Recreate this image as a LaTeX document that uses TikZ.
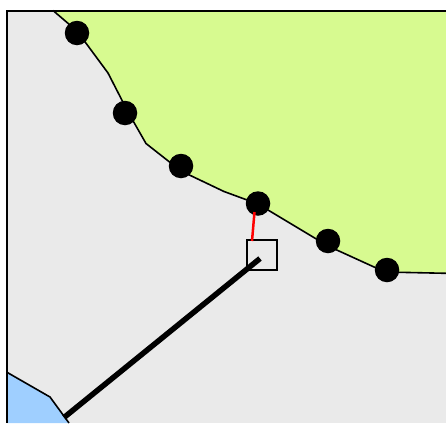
\documentclass[tikz,border=0pt]{standalone}
\definecolor{landgray}{HTML}{EAEAEA}
\definecolor{landgreen}{HTML}{D7FA90}
\definecolor{waterblue}{HTML}{9FCFFF}
\tikzset{
  stationdot/.style={circle,fill=black,draw=none,minimum size=24.5pt,inner sep=0pt},
  boundaryline/.style={draw=black,line width=1.6pt,line join=round},
  framebox/.style={draw=black,line width=1.7pt,minimum size=30pt,inner sep=0pt}
}
\begin{document}
\begin{tikzpicture}[x=1pt,y=-1pt]
\useasboundingbox (0,0) rectangle (446,423);
\fill[white] (0,0) rectangle (446,423);
\fill[landgray] (6.5,10.5) rectangle (446,423);
\fill[landgreen] (53,10.5) -- (77,31) -- (108,73) -- (128,112) -- (146,143.5) -- (181,171) -- (224,191.5) -- (258,204) -- (328,246) -- (385,272) -- (446,273.3) -- (446,10.5) -- cycle;
\fill[waterblue] (6.5,372) -- (50,397) -- (69,423) -- (6.5,423) -- cycle;
\draw[boundaryline] (53,10.5) -- (77,31) -- (108,73) -- (128,112) -- (146,143.5) -- (181,171) -- (224,191.5) -- (258,204) -- (328,246) -- (385,272) -- (446,273.3);
\draw[boundaryline] (6.5,372) -- (50,397) -- (69,423);
\draw[black,line width=2pt] (446,10.5) -- (6.5,10.5) -- (6.5,423);
\node[stationdot] (s1) at (77,33) {};
\node[stationdot] (s2) at (125,113) {};
\node[stationdot] (s3) at (181,166) {};
\node[stationdot] (s4) at (258,203.5) {};
\node[stationdot] (s5) at (328,241) {};
\node[stationdot] (s6) at (387,270) {};
\node[framebox] (box) at (262,255) {};
\coordinate (redA) at (254.5,212);
\coordinate (redB) at (252,241);
\coordinate (thickA) at (64,417.5);
\coordinate (thickB) at (260,258.5);
\draw[red,line width=2.5pt] (redA) -- (redB);
\draw[black,line width=5.5pt] (thickA) -- (thickB);
\end{tikzpicture}
\end{document}
